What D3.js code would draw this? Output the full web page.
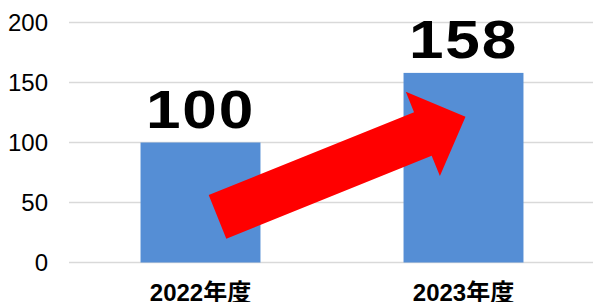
<!DOCTYPE html>
<html>
<head>
<meta charset="utf-8">
<script src="https://cdn.jsdelivr.net/npm/d3@7"></script>
<style>
  body { margin: 0; background: #fff; }
  svg { display: block; font-family: "Liberation Sans", Arial, "Noto Sans CJK JP", sans-serif; }
</style>
</head>
<body>
<div id="chart"></div>
<script>
const categories = ["2022年度", "2023年度"];
const values = [100, 158];
const yTicks = [0, 50, 100, 150, 200];
// arrow annotation: from/to in data space (category, value)
const arrowFrom = ["2022年度", 38];
const arrowTo = ["2023年度", 121.5];

const width = 593, height = 302;
const margin = {top: 22.5, right: 0, bottom: 39.5, left: 69};

const svg = d3.select("#chart")
  .append("svg")
  .attr("width", width)
  .attr("height", height);

const x = d3.scaleBand()
  .domain(categories)
  .range([margin.left, 595])
  .paddingInner(0.544)
  .paddingOuter(0.272);

const y = d3.scaleLinear()
  .domain([0, 200])
  .range([height - margin.bottom, margin.top]);

// gridlines
svg.append("g")
  .selectAll("line")
  .data(yTicks)
  .enter()
  .append("line")
  .attr("x1", margin.left)
  .attr("x2", width)
  .attr("y1", d => y(d))
  .attr("y2", d => y(d))
  .attr("stroke", "#d9d9d9")
  .attr("stroke-width", 1.5);

// y labels
svg.append("g")
  .selectAll("text")
  .data(yTicks)
  .enter()
  .append("text")
  .attr("x", 48)
  .attr("y", d => y(d))
  .attr("dy", "0.36em")
  .attr("text-anchor", "end")
  .style("font-size", "24px")
  .style("fill", "#000")
  .text(d => d);

// bars
svg.append("g")
  .selectAll("rect")
  .data(values)
  .enter()
  .append("rect")
  .attr("x", (d, i) => x(categories[i]))
  .attr("width", x.bandwidth())
  .attr("y", d => y(d))
  .attr("height", d => y(0) - y(d))
  .attr("fill", "#558ed5");

// value labels (wide, heavy digits)
svg.append("g")
  .selectAll("text")
  .data(values)
  .enter()
  .append("text")
  .attr("transform", (d, i) => "translate(" + (x(categories[i]) + x.bandwidth() / 2) + "," + (y(d) - 15) + ") scale(1.15,1)")
  .attr("text-anchor", "middle")
  .style("font-size", "54px")
  .style("font-weight", "bold")
  .style("letter-spacing", "1.5px")
  .style("fill", "#000")
  .text(d => d);

// x labels
svg.append("g")
  .selectAll("text")
  .data(categories)
  .enter()
  .append("text")
  .attr("x", d => x(d) + x.bandwidth() / 2)
  .attr("y", 301)
  .attr("text-anchor", "middle")
  .style("font-size", "24px")
  .style("font-weight", "bold")
  .style("fill", "#000")
  .text(d => d);

// red arrow
const x0 = x(arrowFrom[0]) + x.bandwidth() / 2 + 17, y0 = y(arrowFrom[1]);
const x1 = x(arrowTo[0]) + x.bandwidth() / 2 + 2, y1 = y(arrowTo[1]);
const len = Math.hypot(x1 - x0, y1 - y0);
const ang = Math.atan2(y1 - y0, x1 - x0) * 180 / Math.PI;
const shaftW = 47, headW = 91, headL = 46;
const pts = [
  [0, -shaftW / 2], [len - headL, -shaftW / 2], [len - headL, -headW / 2],
  [len, 0], [len - headL, headW / 2], [len - headL, shaftW / 2], [0, shaftW / 2]
];
svg.append("polygon")
  .attr("points", pts.map(p => p.join(",")).join(" "))
  .attr("transform", "translate(" + x0 + "," + y0 + ") rotate(" + ang + ")")
  .attr("fill", "#ff0000");
</script>
</body>
</html>
